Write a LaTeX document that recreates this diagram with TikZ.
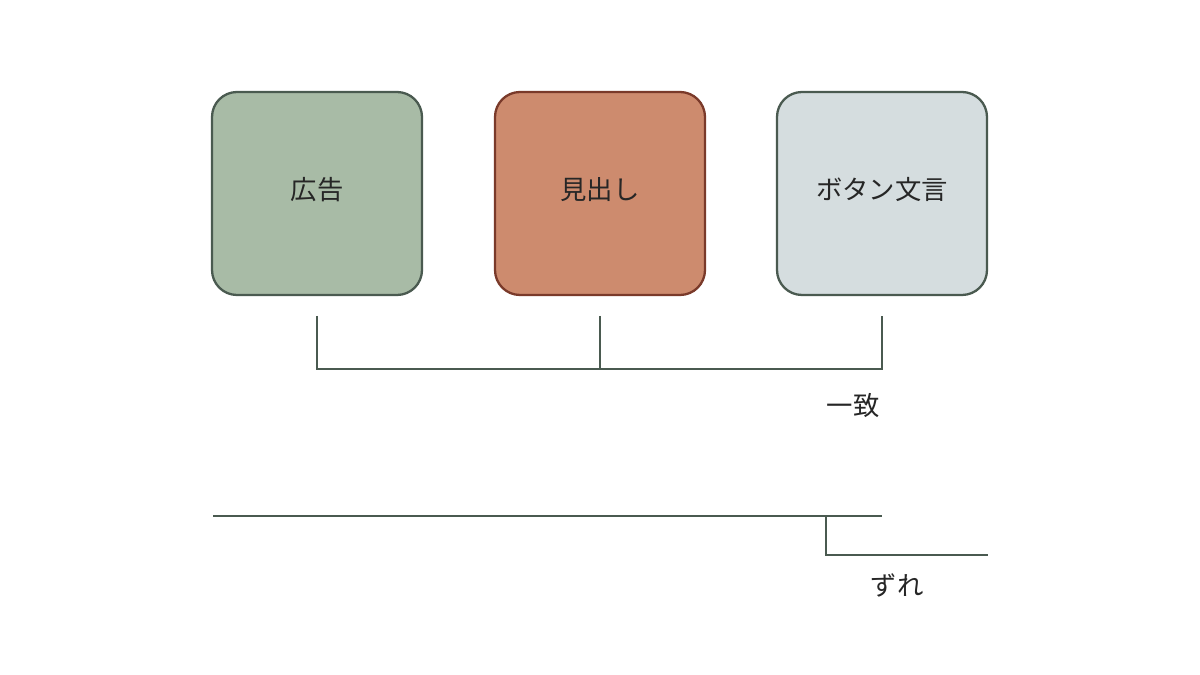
\documentclass[tikz,border=0pt]{standalone}
\usepackage{fontspec}
\newfontfamily\cjk{Noto Sans CJK JP}
\begin{document}
\begin{tikzpicture}[x=0.02cm,y=-0.02cm,
  box/.style={draw=#1,line width=1.3pt,rounded corners=0.5cm},
  ln/.style={draw=lc,line width=1.2pt},
  lbl/.style={font=\cjk\fontsize{15}{18}\selectfont,text=black!85}]
\definecolor{lc}{HTML}{4A5A50}
\definecolor{g}{HTML}{A8BBA6}
\definecolor{o}{HTML}{CD8B6E}
\definecolor{s}{HTML}{D5DDDF}
\definecolor{ob}{HTML}{7A3A2A}
\useasboundingbox (0,0) rectangle (1200,675);
\fill[white] (0,0) rectangle (1200,675);
\filldraw[box=lc,fill=g] (212,92) rectangle (422,295);
\filldraw[box=ob,fill=o] (495,92) rectangle (705,295);
\filldraw[box=lc,fill=s] (777,92) rectangle (987,295);
\node[lbl] (a) at (317,190) {広告};
\node[lbl] (b) at (600,190) {見出し};
\node[lbl] (c) at (882,190) {ボタン文言};
\coordinate (a1) at (317,316); \coordinate (a2) at (317,369);
\coordinate (b1) at (600,316); \coordinate (b2) at (600,369);
\coordinate (c1) at (882,316); \coordinate (c2) at (882,369);
\draw[ln] (a1) -- (a2) -- (c2) -- (c1);
\draw[ln] (b1) -- (b2);
\node[lbl] (m) at (853,406) {一致};
\coordinate (d1) at (213,516); \coordinate (d2) at (882,516);
\coordinate (e1) at (826,516); \coordinate (e2) at (826,555); \coordinate (e3) at (988,555);
\draw[ln] (d1) -- (d2);
\draw[ln] (e1) -- (e2) -- (e3);
\node[lbl] (z) at (897,585) {ずれ};
\end{tikzpicture}
\end{document}
